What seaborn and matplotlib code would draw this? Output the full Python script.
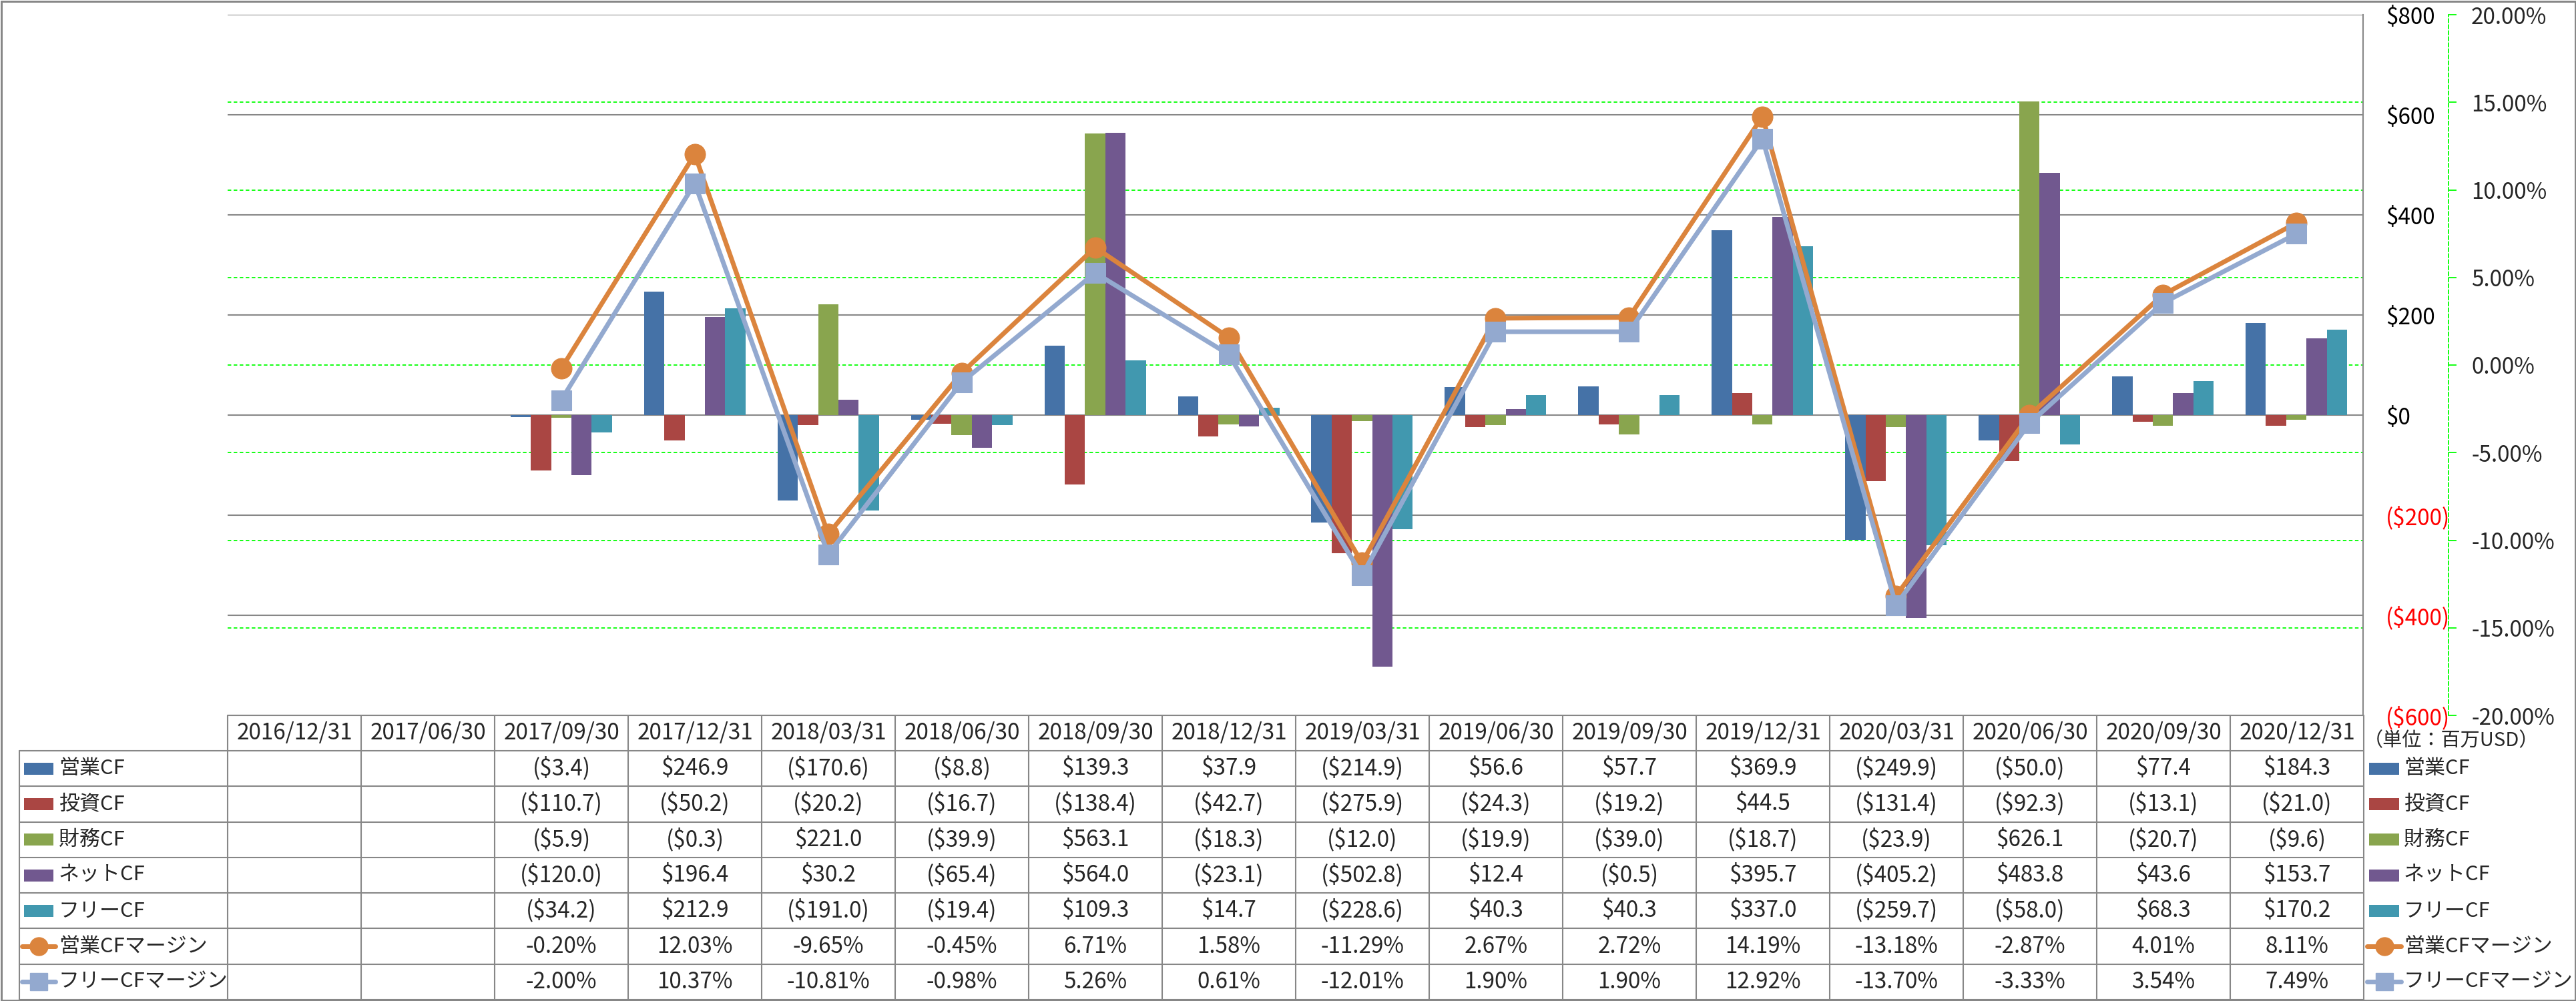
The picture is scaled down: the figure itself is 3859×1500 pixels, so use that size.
import numpy as np
import pandas as pd
import matplotlib
matplotlib.use("Agg")
import matplotlib.pyplot as plt
import seaborn as sns
from matplotlib.lines import Line2D
from matplotlib.patches import Rectangle

nan = np.nan
dates = ["2016/12/31", "2017/06/30", "2017/09/30", "2017/12/31", "2018/03/31", "2018/06/30",
         "2018/09/30", "2018/12/31", "2019/03/31", "2019/06/30", "2019/09/30", "2019/12/31",
         "2020/03/31", "2020/06/30", "2020/09/30", "2020/12/31"]

op_cf = [nan, nan, -3.4, 246.9, -170.6, -8.8, 139.3, 37.9, -214.9, 56.6, 57.7, 369.9, -249.9, -50.0, 77.4, 184.3]
inv_cf = [nan, nan, -110.7, -50.2, -20.2, -16.7, -138.4, -42.7, -275.9, -24.3, -19.2, 44.5, -131.4, -92.3, -13.1, -21.0]
fin_cf = [nan, nan, -5.9, -0.3, 221.0, -39.9, 563.1, -18.3, -12.0, -19.9, -39.0, -18.7, -23.9, 626.1, -20.7, -9.6]
net_cf = [nan, nan, -120.0, 196.4, 30.2, -65.4, 564.0, -23.1, -502.8, 12.4, -0.5, 395.7, -405.2, 483.8, 43.6, 153.7]
free_cf = [nan, nan, -34.2, 212.9, -191.0, -19.4, 109.3, 14.7, -228.6, 40.3, 40.3, 337.0, -259.7, -58.0, 68.3, 170.2]
op_margin = [nan, nan, -0.20, 12.03, -9.65, -0.45, 6.71, 1.58, -11.29, 2.67, 2.72, 14.19, -13.18, -2.87, 4.01, 8.11]
free_margin = [nan, nan, -2.00, 10.37, -10.81, -0.98, 5.26, 0.61, -12.01, 1.90, 1.90, 12.92, -13.70, -3.33, 3.54, 7.49]

bar_names = ["営業CF", "投資CF", "財務CF", "ネットCF", "フリーCF"]
line_names = ["営業CFマージン", "フリーCFマージン"]
bar_colors = ["#4572A7", "#AA4643", "#89A54E", "#71588F", "#4198AF"]
line_colors = ["#DB843D", "#93A9CF"]
line_markers = ["o", "s"]
dollar_ticks = [-600, -400, -200, 0, 200, 400, 600, 800]
pct_ticks = [-20, -15, -10, -5, 0, 5, 10, 15, 20]
unit_label = "（単位：百万USD）"

sns.set_theme(style="white")
plt.rcParams["font.family"] = ["Noto Sans CJK JP", "DejaVu Sans"]

W, H = 3859, 1500
fig = plt.figure(figsize=(W / 100, H / 100), dpi=100)
PX = 72 / 100  # points per pixel


def fx(x):
    return x / W


def fy(y):
    return 1 - y / H


L, R, T, B = 341, 3540, 22, 1072
GRAY = "#878787"
LIME = "#00FF00"
FS = 24      # numbers
FSJ = 22.3   # Japanese labels

ax = fig.add_axes([fx(L), fy(B), (R - L) / W, (B - T) / H])
ax.patch.set_alpha(0)

bar_series = [op_cf, inv_cf, fin_cf, net_cf, free_cf]
df = pd.DataFrame({
    "date": np.repeat([dates], len(bar_names), axis=0).ravel(),
    "series": np.repeat(bar_names, len(dates)),
    "value": np.concatenate(bar_series),
}).dropna()

sns.barplot(data=df, x="date", y="value", hue="series", order=dates, hue_order=bar_names,
            palette=bar_colors, width=0.76, saturation=1, errorbar=None, legend=False,
            linewidth=0, ax=ax)
ax.set_xlim(-0.5, len(dates) - 0.5)
ax.set_ylim(-600, 800)


def p2d(p):
    # percent scale (-20..20) shares the plot height with the dollar scale (-600..800)
    return -600 + (np.asarray(p) + 20) * (1400 / 40)


# secondary axis with the margin lines
ax2 = ax.twinx()
for name, vals, col, mk in zip(line_names, [op_margin, free_margin], line_colors, line_markers):
    ldf = pd.DataFrame({"x": np.arange(len(dates)), "y": vals}).dropna()
    sns.lineplot(data=ldf, x="x", y="y", color=col, lw=7 * PX, marker=mk,
                 markersize=(31 if mk == "o" else 30) * PX, markeredgecolor=col,
                 markerfacecolor=col, ax=ax2, sort=False, legend=False)
ax2.set_xlim(-0.5, len(dates) - 0.5)
ax2.set_ylim(-20, 20)
ax2.set_yticks(pct_ticks)
ax2.set_yticklabels([f"{v:.2f}%" for v in pct_ticks])
for t, v in zip(ax2.get_yticklabels(), pct_ticks):
    t.set_color("red" if v < 0 else "black")
ax2.grid(False)
ax2.set_xlabel("")
ax2.set_ylabel("")
for s in ["left", "top", "bottom"]:
    ax2.spines[s].set_visible(False)
ax2.spines["right"].set_position(("outward", (3668 - R) * PX))
ax2.spines["right"].set_color(LIME)
ax2.spines["right"].set_linestyle((0, (3, 2)))
ax2.spines["right"].set_linewidth(1.3)
ax2.tick_params(axis="y", direction="out", length=12 * PX, width=1.3, color=LIME,
                pad=22 * PX, labelsize=FS)

# primary axis styling (after twinx, which moves ticks to the left)
ax.set_yticks(dollar_ticks)
ax.set_yticks(p2d(pct_ticks[1:-1]), minor=True)
ax.grid(axis="y", which="major", color=GRAY, lw=1.5)
ax.grid(axis="y", which="minor", color=LIME, lw=1.3, ls=(0, (3, 2)))
ax.grid(axis="x", visible=False)
ax.set_axisbelow(True)
ax.yaxis.tick_right()
ax.yaxis.set_label_position("right")
ax.tick_params(axis="y", which="both", length=0, pad=34 * PX, labelsize=FS,
               left=False, labelleft=False, right=True, labelright=True)
ax.tick_params(axis="y", which="minor", labelright=False)
labels = [f"(\\${-v:,.0f})" if v < 0 else f"\\${v:,.0f}" for v in dollar_ticks]
ax.set_yticklabels(labels)
for t, v in zip(ax.get_yticklabels(), dollar_ticks):
    t.set_color("red" if v < 0 else "black")
ax.set_xticklabels([])
ax.tick_params(axis="x", length=0)
ax.set_xlabel("")
ax.set_ylabel("")
for s in ["left", "top", "bottom"]:
    ax.spines[s].set_visible(False)
ax.spines["right"].set_visible(True)
ax.spines["right"].set_color(GRAY)
ax.spines["right"].set_linewidth(1.5)

# ---------- data table ----------
ROW0 = 1125
RH = (1498 - ROW0) / 7
COLW = (3541 - L) / len(dates)
LW = 1.5


def hline(x0, x1, y):
    fig.add_artist(Line2D([fx(x0), fx(x1)], [fy(y), fy(y)], color=GRAY, lw=LW,
                          transform=fig.transFigure))


def vline(x, y0, y1):
    fig.add_artist(Line2D([fx(x), fx(x)], [fy(y0), fy(y1)], color=GRAY, lw=LW,
                          transform=fig.transFigure))


hline(L, 3541, B)
for i in range(8):
    hline(29, 3541, ROW0 + i * RH)
vline(29, ROW0, ROW0 + 7 * RH)
for j in range(len(dates) + 1):
    vline(L + j * COLW, B, ROW0 + 7 * RH)

for j, d in enumerate(dates):
    fig.text(fx(L + (j + 0.5) * COLW), fy((B + ROW0) / 2), d, ha="center", va="center",
             fontsize=FS)


def fmt_dollar(v):
    if np.isnan(v):
        return ""
    return f"(\\${-v:.1f})" if v < 0 else f"\\${v:.1f}"


def fmt_pct(v):
    if np.isnan(v):
        return ""
    return f"{v:.2f}%"


rows = [(n, s, "bar", c, None) for n, s, c in zip(bar_names, bar_series, bar_colors)]
rows += [(n, s, "line", c, m) for n, s, c, m in zip(line_names, [op_margin, free_margin],
                                                     line_colors, line_markers)]


def legend_key(x0, x1, yc, kind, col, mk):
    if kind == "bar":
        fig.add_artist(Rectangle((fx(x0), fy(yc + 9)), (x1 - x0) / W, 18 / H,
                                 transform=fig.transFigure, facecolor=col, edgecolor="none"))
    else:
        fig.add_artist(Line2D([fx(x0 - 3), fx(x1 + 3)], [fy(yc), fy(yc)], color=col,
                              lw=7 * PX, transform=fig.transFigure))
        fig.add_artist(Line2D([fx((x0 + x1) / 2)], [fy(yc)], color=col, marker=mk,
                              markersize=27 * PX, markeredgecolor=col, lw=0,
                              transform=fig.transFigure))


for i, (name, vals, kind, col, mk) in enumerate(rows):
    yc = ROW0 + (i + 0.5) * RH
    legend_key(36, 80, yc, kind, col, mk)
    fig.text(fx(88), fy(yc), name, ha="left", va="center", fontsize=FSJ)
    for j, v in enumerate(vals):
        txt = fmt_dollar(v) if kind == "bar" else fmt_pct(v)
        if txt:
            fig.text(fx(L + (j + 0.5) * COLW), fy(yc), txt, ha="center", va="center",
                     fontsize=FS)
    # right-side legend
    legend_key(3549, 3594, yc, kind, col, mk)
    fig.text(fx(3601), fy(yc), name, ha="left", va="center", fontsize=FSJ)

fig.text(fx(3672), fy(1110), unit_label, ha="center", va="center", fontsize=21)

# outer border
fig.add_artist(Rectangle((fx(1.5), fy(1498.5)), (W - 3) / W, (H - 3) / H,
                         transform=fig.transFigure, facecolor="none", edgecolor=GRAY,
                         lw=3 * PX))

fig.savefig("out.png", dpi=100)
